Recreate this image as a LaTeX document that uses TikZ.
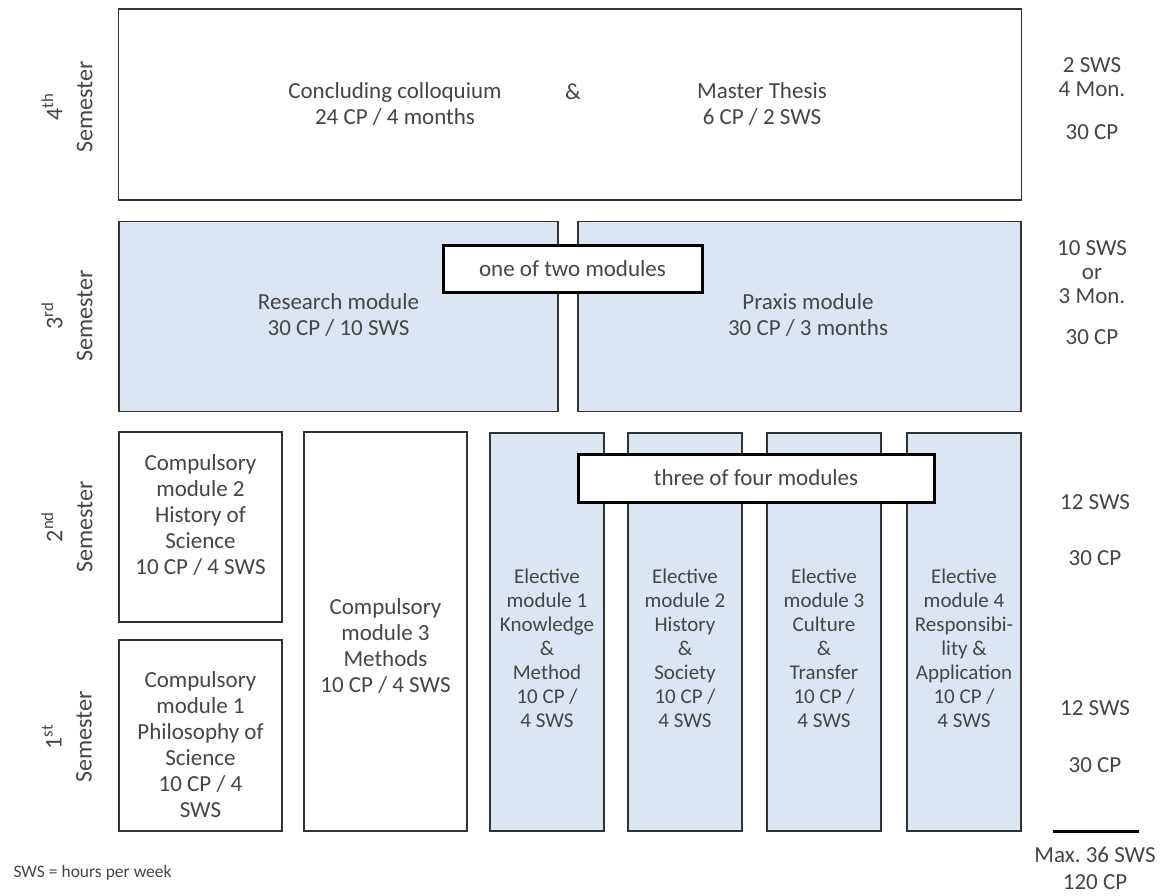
\documentclass[tikz,border=0pt]{standalone}
\usepackage{fontspec}
\setmainfont{Carlito}
\usepackage{xcolor}
\usetikzlibrary{positioning}
\definecolor{plink}{HTML}{333333}
\definecolor{pltext}{HTML}{454545}
\definecolor{plblue}{HTML}{DCE6F2}

\begin{document}
\begin{tikzpicture}[x=1pt,y=-1pt,
  every node/.style={align=center,text=pltext,font=\fontsize{23}{26}\selectfont},
  module/.style={draw=plink,line width=1.8pt,fill=white,inner sep=0pt},
  elective/.style={module,fill=plblue,minimum width=114pt,minimum height=398pt},
  choice/.style={draw=black,line width=3pt,fill=white,inner sep=0pt},
  sem/.style={rotate=90,font=\fontsize{24}{30}\selectfont},
  load/.style={font=\fontsize{23}{24}\selectfont},
  sumline/.style={line width=3pt,draw=black}
]
\useasboundingbox (0,0) rectangle (1167,896);

% 4th semester
\node[module,minimum width=903pt,minimum height=191pt] (thesis) at (570,104.5) {};
\node (coll) at (395,104) {Concluding colloquium\\24 CP / 4 months};
\node (amp) at (573,92) {\&};
\node (mt) at (762,104) {Master Thesis\\6 CP / 2 SWS};

% 3rd semester
\node[module,fill=plblue,minimum width=439pt,minimum height=190pt] (research) at (338.5,316.5) {};
\node[module,fill=plblue,minimum width=443pt,minimum height=190pt] (praxis) at (799.5,316.5) {};
\node (rest) at (338.5,315) {Research module\\30 CP / 10 SWS};
\node (prat) at (808,315) {Praxis module\\30 CP / 3 months};
\node[choice,minimum width=259pt,minimum height=47pt] (oneof) at (572.5,268.5) {one of two modules};

% 1st and 2nd semester
\node[module,minimum width=163pt,minimum height=190pt] (c2) at (200.5,527) {};
\node (c2t) at (200.5,515) {Compulsory\\module 2\\History of\\Science\\10 CP / 4 SWS};
\node[module,minimum width=163pt,minimum height=191pt] (c1) at (200.5,735.5) {};
\node (c1t) at (200.5,745) {Compulsory\\module 1\\Philosophy of\\Science\\10 CP / 4\\SWS};
\node[module,minimum width=163pt,minimum height=399pt] (c3) at (385.5,631.5) {};
\node (c3t) at (385.5,646) {Compulsory\\module 3\\Methods\\10 CP / 4 SWS};

\foreach \i/\cx/\sub in {1/547/{Knowledge\\\&\\Method},
                        2/685/{History\\\&\\Society},
                        3/824/{Culture\\\&\\Transfer},
                        4/964/{Responsibi-\\lity \&\\Application}}{
  \node[elective] (e\i) at (\cx,632) {};
  \node[font=\fontsize{21}{24}\selectfont] (e\i t) at (\cx,648)
    {Elective\\module \i\\\sub\\10 CP /\\4 SWS};
}
\node[choice,minimum width=356pt,minimum height=48pt] (threeof) at (756,478) {three of four modules};

% semester labels
\node[sem] (s4) at (67,107) {4\textsuperscript{th}\\Semester};
\node[sem] (s3) at (67,316) {3\textsuperscript{rd}\\Semester};
\node[sem] (s2) at (67,527) {2\textsuperscript{nd}\\Semester};
\node[sem] (s1) at (67,737) {1\textsuperscript{st}\\Semester};

% workload column
\node[load] (w4) at (1092,77) {2 SWS\\4 Mon.};
\node[load] (cp4) at (1092,132) {30 CP};
\node[load] (w3) at (1092,272) {10 SWS\\or\\3 Mon.};
\node[load] (cp3) at (1092,337) {30 CP};
\node[load] (w2) at (1095,502) {12 SWS};
\node[load] (cp2) at (1095,558) {30 CP};
\node[load] (w1) at (1095,708) {12 SWS};
\node[load] (cp1) at (1095,765) {30 CP};
\coordinate (sumL) at (1053,831);
\coordinate (sumR) at (1139,831);
\draw[sumline] (sumL) -- (sumR);
\node[font=\fontsize{23}{27}\selectfont] (total) at (1095,868) {Max.\ 36 SWS\\120 CP};

\node[anchor=west,font=\fontsize{17.5}{20}\selectfont] (key) at (10,873) {SWS = hours per week};
\end{tikzpicture}
\end{document}
